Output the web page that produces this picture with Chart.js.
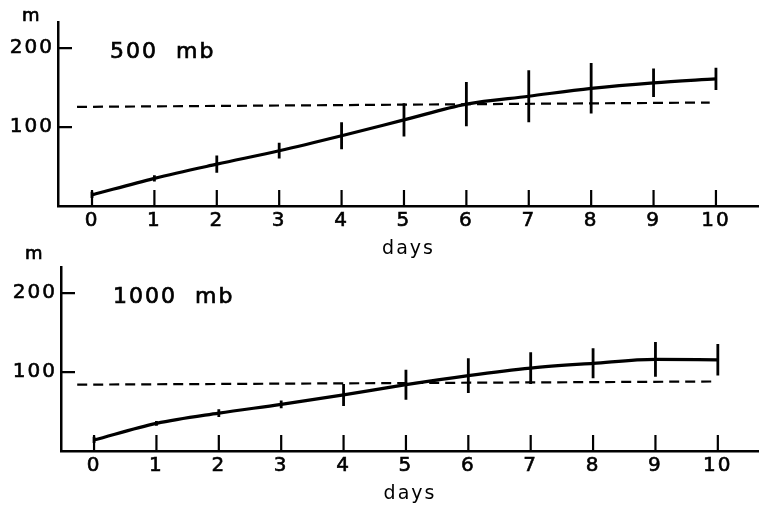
<!DOCTYPE html>
<html>
<head>
<meta charset="utf-8">
<script src="https://cdn.jsdelivr.net/npm/chart.js@4/dist/chart.umd.min.js"></script>
<style>
  body { margin: 0; background: #fff; }
  .box { position: absolute; left: 0; width: 759px; height: 260px; }
</style>
</head>
<body>
<div class="box" style="top:0"><canvas id="top"></canvas></div>
<div class="box" style="top:245px"><canvas id="bottom"></canvas></div>
<script>
// values
const days = [0, 1, 2, 3, 4, 5, 6, 7, 8, 9, 10];
const dayTicks = [0, 1, 2, 3, 4, 5, 6, 7, 8, 9, 10];
const heightTicks = [100, 200];

const mean500 = [14, 35, 53, 70, 89, 109, 129, 139, 149, 156, 161];
const err500  = [4, 4, 11, 10, 17, 21, 28, 33, 32, 18, 14];
const ref500x = [-0.24, 9.9];
const ref500  = [125.5, 131];

const mean1000 = [14, 35, 48, 59, 71, 84, 95.5, 105, 111, 116, 115.5];
const err1000  = [4, 3, 5, 5, 14, 19, 22, 20, 19, 22, 20];
const ref1000x = [-0.27, 9.92];
const ref1000  = [84, 88];

const FONT = '"DejaVu Sans", sans-serif';

// tick marks inside the frame, error bars and the labels
const decor = {
  id: 'decor',
  beforeLayout(chart) { chart.ctx.letterSpacing = '2px'; },
  beforeDraw(chart) { chart.ctx.letterSpacing = '2px'; },
  afterDatasetsDraw(chart, args, opts) {
    const ctx = chart.ctx, x = chart.scales.x, y = chart.scales.y;
    ctx.save();
    ctx.strokeStyle = '#000';
    ctx.lineWidth = 2.2;
    ctx.beginPath();
    heightTicks.forEach(v => {
      const py = y.getPixelForValue(v);
      ctx.moveTo(x.left, py); ctx.lineTo(x.left + 14, py);
    });
    dayTicks.forEach(v => {
      const px = x.getPixelForValue(v);
      ctx.moveTo(px, y.bottom); ctx.lineTo(px, y.bottom - 16);
    });
    ctx.stroke();

    ctx.lineWidth = 2.8;
    ctx.beginPath();
    days.forEach((d, i) => {
      const px = x.getPixelForValue(d);
      ctx.moveTo(px, y.getPixelForValue(opts.mean[i] - opts.err[i]));
      ctx.lineTo(px, y.getPixelForValue(opts.mean[i] + opts.err[i]));
    });
    ctx.stroke();

    ctx.fillStyle = '#000';
    ctx.lineWidth = 0.7;
    ctx.letterSpacing = '2px';
    ctx.textBaseline = 'alphabetic';
    ctx.font = '22px ' + FONT;
    ctx.fillText(opts.label, x.left + 52, y.top + 36);
    ctx.strokeText(opts.label, x.left + 52, y.top + 36);
    ctx.letterSpacing = '0px';
    ctx.font = '18px ' + FONT;
    ctx.fillText('m', x.left - 36, opts.mY);
    ctx.strokeText('m', x.left - 36, opts.mY);
    ctx.restore();
  }
};

function makeChart(id, mean, err, refX, refY, label, yWidth, xMin, xMax, mY) {
  const meanPts = days.map((d, i) => ({ x: d, y: mean[i] }));
  const refPts = refX.map((d, i) => ({ x: d, y: refY[i] }));
  return new Chart(document.getElementById(id), {
    type: 'line',
    data: {
      datasets: [
        {
          data: meanPts,
          borderColor: '#000',
          borderWidth: 3.2,
          pointRadius: 0,
          cubicInterpolationMode: 'monotone'
        },
        {
          data: refPts,
          borderColor: '#000',
          borderWidth: 2.2,
          borderDash: [10, 6],
          pointRadius: 0
        }
      ]
    },
    options: {
      responsive: true,
      maintainAspectRatio: false,
      animation: false,
      layout: { padding: { top: 22, left: 0, right: 0, bottom: 0 } },
      plugins: {
        legend: { display: false },
        tooltip: { enabled: false },
        decor: { mean: mean, err: err, label: label, mY: mY }
      },
      scales: {
        x: {
          type: 'linear',
          min: xMin,
          max: xMax,
          afterBuildTicks: s => { s.ticks = dayTicks.map(v => ({ value: v })); },
          afterFit: s => { s.height = 54; },
          grid: { display: false, drawTicks: false },
          border: { display: true, color: '#000', width: 2.5 },
          ticks: { color: '#000', padding: 3, textStrokeWidth: 0.6, textStrokeColor: '#000', font: { family: FONT, size: 20 } },
          title: { display: true, text: 'days', color: '#000', padding: { top: 4, bottom: 0 }, font: { family: FONT, size: 19, weight: '500' } }
        },
        y: {
          min: 0,
          max: 233,
          afterBuildTicks: s => { s.ticks = heightTicks.map(v => ({ value: v })); },
          afterFit: s => { s.width = yWidth; },
          grid: { display: false, drawTicks: false },
          border: { display: true, color: '#000', width: 2.5 },
          ticks: { color: '#000', padding: 4, textStrokeWidth: 0.6, textStrokeColor: '#000', font: { family: FONT, size: 20 } }
        }
      }
    },
    plugins: [decor]
  });
}

makeChart('top', mean500, err500, ref500x, ref500, '500  mb', 58, -0.545, 10.69, 21);
makeChart('bottom', mean1000, err1000, ref1000x, ref1000, '1000  mb', 61, -0.53, 10.66, 14);
</script>
</body>
</html>
